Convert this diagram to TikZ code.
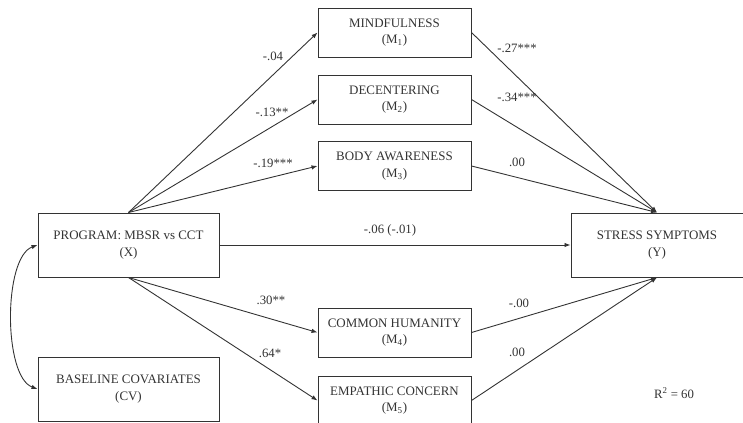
\documentclass[tikz,border=0pt]{standalone}
\usepackage{fontspec}
\setmainfont{Liberation Serif}
\usepackage{xcolor}
\usetikzlibrary{arrows.meta}

\definecolor{ink}{HTML}{333333}
\tikzset{
  varbox/.style={draw=ink, line width=1pt, align=center, text=ink,
    font=\fontsize{13}{16.5}\selectfont, inner sep=0pt},
  coef/.style={text=ink, font=\fontsize{12.8}{15}\selectfont, inner sep=0pt},
  path/.style={draw=ink, line width=0.9pt, -{Latex[length=6bp,width=4.5bp]}},
}

\begin{document}
\begin{tikzpicture}[x=1bp,y=1bp]
\useasboundingbox (0,0) rectangle (743,422);

%% mediadores (M1 .. M5) %%%%%%%%%%%%%%%%%%%%%%
\node[varbox, minimum width=153bp, minimum height=49bp] (mOne)   at (394.5,389.5) {MINDFULNESS\\(M\textsubscript{1})};
\node[varbox, minimum width=153bp, minimum height=49bp] (mTwo)   at (394.5,322.5) {DECENTERING\\(M\textsubscript{2})};
\node[varbox, minimum width=153bp, minimum height=49bp] (mThree) at (394.5,256)   {BODY AWARENESS\\(M\textsubscript{3})};
\node[varbox, minimum width=153bp, minimum height=49bp] (mFour)  at (394.5,89.5)  {COMMON HUMANITY\\(M\textsubscript{4})};
\node[varbox, minimum width=153bp, minimum height=49bp] (mFive)  at (394.5,21.5)  {EMPATHIC CONCERN\\(M\textsubscript{5})};

%% X, CV, Y %%%%%%%%%%%%%%%%%%%%%%%%%%%%%%%%%%%%%
\node[varbox, minimum width=181bp, minimum height=64bp] (prog)  at (128.5,177) {PROGRAM: MBSR vs CCT\\(X)};
\node[varbox, minimum width=181bp, minimum height=64bp] (covar) at (128.5,33)  {BASELINE COVARIATES\\(CV)};
\node[varbox, minimum width=172bp, minimum height=64bp] (stress) at (657,177)  {STRESS SYMPTOMS\\(Y)};

%% caminos a %%%%%%%%%%%%%%%%%%%%%%%%%%%%%%%%%%%%
\foreach \iM in {mOne,mTwo,mThree}{
\draw[path] (prog.north) -- (\iM.west);
}
\foreach \iM in {mFour,mFive}{
\draw[path] (prog.south) -- (\iM.west);
}
%% caminos b %%%%%%%%%%%%%%%%%%%%%%%%%%%%%%%%%%%%
\foreach \iM in {mOne,mTwo,mThree}{
\draw[path] (\iM.east) -- (stress.north);
}
\foreach \iM in {mFour,mFive}{
\draw[path] (\iM.east) -- (stress.south);
}
%% c' y covarianza
\draw[path] (prog.east) -- (stress.west);
\draw[path, {Latex[length=6bp,width=4.5bp]}-{Latex[length=6bp,width=4.5bp]}]
  (prog.west) to[out=200, in=160, looseness=0.65] (covar.west);

%% coeficientes %%%%%%%%%%%%%%%%%%%%%%%%%%%%%%%%%
\node[coef] (aOne)   at (273,366) {-.04};
\node[coef] (aTwo)   at (272,310) {-.13**};
\node[coef] (aThree) at (273,259) {-.19***};
\node[coef] (aFour)  at (271,122) {.30**};
\node[coef] (aFive)  at (270,69)  {.64*};
\node[coef] (bOne)   at (517,374) {-.27***};
\node[coef] (bTwo)   at (517,325) {-.34***};
\node[coef] (bThree) at (517,260) {.00};
\node[coef] (bFour)  at (519,119) {-.00};
\node[coef] (bFive)  at (517,70)  {.00};
\node[coef] (cDir)   at (390,192) {-.06 (-.01)};
\node[coef] (rSq)    at (674,29)  {R\textsuperscript{2} = 60};

\end{tikzpicture}
\end{document}
